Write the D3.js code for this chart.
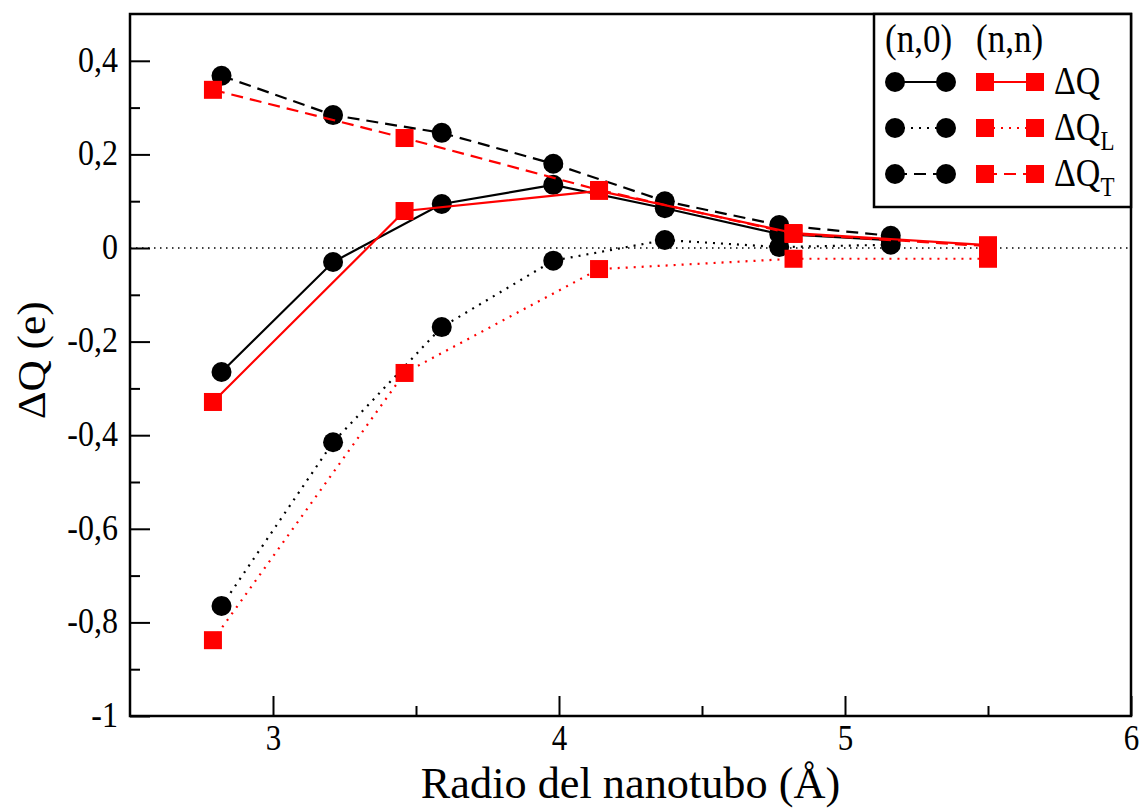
<!DOCTYPE html>
<html>
<head>
<meta charset="utf-8">
<script src="https://cdn.jsdelivr.net/npm/d3@7"></script>
<style>
  body { margin: 0; background: #fff; }
  text { font-family: "Liberation Serif", "Times New Roman", serif; }
</style>
</head>
<body>
<svg id="chart"></svg>
<script>
// (n,0) nanotubes
const radiiN0 = [2.82, 3.21, 3.59, 3.98, 4.37, 4.77, 5.16];
const dqN0 = [-0.265, -0.030, 0.094, 0.135, 0.085, 0.030, 0.017];
const dqLN0 = [-0.765, -0.415, -0.169, -0.027, 0.017, 0.002, 0.007];
const dqTN0 = [0.368, 0.284, 0.246, 0.180, 0.100, 0.049, 0.026];

// (n,n) nanotubes
const radiiNN = [2.79, 3.46, 4.14, 4.82, 5.50];
const dqNN = [-0.329, 0.079, 0.122, 0.032, 0.006];
const dqLNN = [-0.838, -0.267, -0.045, -0.023, -0.023];
const dqTNN = [0.338, 0.235, 0.124, 0.030, 0.004];

const xTicks = [3, 4, 5, 6];
const xMinorTicks = [3.5, 4.5, 5.5];
const yTicks = [-1, -0.8, -0.6, -0.4, -0.2, 0, 0.2, 0.4];
const yMinorTicks = [-0.9, -0.7, -0.5, -0.3, -0.1, 0.1, 0.3];

const legendRows = [
  { label: "ΔQ", sub: "", dash: null },
  { label: "ΔQ", sub: "L", dash: "2,6" },
  { label: "ΔQ", sub: "T", dash: "12,7" }
];

var width = 1146, height = 810;
var margin = { left: 130, right: 15, top: 14, bottom: 94 };
var stretch = 1.15; // the original lettering is a bit tall and narrow

function fmt(d) {
  return String(Math.round(d * 10) / 10).replace(".", ",");
}

function drawChart() {
  var svg = d3.select("#chart").attr("width", width).attr("height", height);

  var x = d3.scaleLinear().domain([2.5, 6])
    .range([margin.left, width - margin.right]);
  var y = d3.scaleLinear().domain([-1, 0.5])
    .range([height - margin.bottom, margin.top]);

  var y0 = height - margin.bottom;

  // minor ticks
  svg.append("g")
    .attr("transform", "translate(0," + y0 + ")")
    .call(d3.axisBottom(x).tickValues(xMinorTicks).tickSizeInner(-10).tickSizeOuter(0).tickFormat(""))
    .call(g => g.select(".domain").remove())
    .selectAll("line").attr("stroke-width", 2);
  svg.append("g")
    .attr("transform", "translate(" + margin.left + ",0)")
    .call(d3.axisLeft(y).tickValues(yMinorTicks).tickSizeInner(-10).tickSizeOuter(0).tickFormat(""))
    .call(g => g.select(".domain").remove())
    .selectAll("line").attr("stroke-width", 2);

  // major ticks with labels
  var xAxis = svg.append("g")
    .attr("transform", "translate(0," + y0 + ")")
    .call(d3.axisBottom(x).tickValues(xTicks).tickSizeInner(-20).tickSizeOuter(0).tickPadding(8).tickFormat(fmt));
  xAxis.select(".domain").remove();
  xAxis.attr("font-family", "Liberation Serif").attr("font-size", 31);
  xAxis.selectAll("line").attr("stroke-width", 2);
  xAxis.selectAll("text").attr("fill", "#000")
    .attr("transform", "scale(1," + stretch + ")");

  var yAxis = svg.append("g")
    .attr("transform", "translate(" + margin.left + ",0)")
    .call(d3.axisLeft(y).tickValues(yTicks).tickSizeInner(-20).tickSizeOuter(0).tickPadding(12).tickFormat(fmt));
  yAxis.select(".domain").remove();
  yAxis.attr("font-family", "Liberation Serif").attr("font-size", 32);
  yAxis.selectAll("line").attr("stroke-width", 2);
  yAxis.selectAll("text").attr("fill", "#000").attr("dy", "0.28em")
    .attr("transform", "scale(1," + stretch + ")");

  // zero reference line
  svg.append("line")
    .attr("x1", x(2.5)).attr("x2", x(6))
    .attr("y1", y(0)).attr("y2", y(0))
    .attr("stroke", "#000").attr("stroke-width", 1.5)
    .attr("stroke-dasharray", "1.5,4.5");

  var styles = [
    { xs: radiiN0, ys: dqN0, color: "#000", dash: null, shape: "circle" },
    { xs: radiiN0, ys: dqLN0, color: "#000", dash: "2,6", shape: "circle" },
    { xs: radiiN0, ys: dqTN0, color: "#000", dash: "12,7", shape: "circle" },
    { xs: radiiNN, ys: dqNN, color: "#ff0000", dash: null, shape: "square" },
    { xs: radiiNN, ys: dqLNN, color: "#ff0000", dash: "2,6", shape: "square" },
    { xs: radiiNN, ys: dqTNN, color: "#ff0000", dash: "12,7", shape: "square" }
  ];

  var line = d3.line().x(d => x(d[0])).y(d => y(d[1]));

  styles.forEach(function(s) {
    var pts = s.xs.map((v, i) => [v, s.ys[i]]);
    svg.append("path")
      .datum(pts)
      .attr("d", line)
      .attr("fill", "none")
      .attr("stroke", s.color)
      .attr("stroke-width", 2.2)
      .attr("stroke-dasharray", s.dash);
    drawMarkers(svg, pts.map(p => [x(p[0]), y(p[1])]), s.shape, s.color);
  });

  // frame
  svg.append("rect")
    .attr("x", margin.left).attr("y", margin.top)
    .attr("width", width - margin.left - margin.right)
    .attr("height", height - margin.top - margin.bottom)
    .attr("fill", "none").attr("stroke", "#000").attr("stroke-width", 2.5);

  drawLegend(svg, x(6));

  // axis titles
  svg.append("text")
    .attr("transform", "translate(" + ((x(2.5) + x(6)) / 2) + ",798) scale(1.03,1.05)")
    .attr("text-anchor", "middle")
    .attr("font-size", 43)
    .text("Radio del nanotubo (Å)");

  svg.append("text")
    .attr("transform", "translate(45," + y(-0.24) + ") rotate(-90) scale(1.08,1)")
    .attr("text-anchor", "middle")
    .attr("font-size", 40)
    .text("ΔQ (e)");
}

function drawMarkers(svg, pts, shape, color) {
  if (shape == "circle") {
    svg.append("g").selectAll("circle")
      .data(pts)
      .enter().append("circle")
      .attr("cx", d => d[0]).attr("cy", d => d[1])
      .attr("r", 10).attr("fill", color);
  } else {
    svg.append("g").selectAll("rect")
      .data(pts)
      .enter().append("rect")
      .attr("x", d => d[0] - 9).attr("y", d => d[1] - 9)
      .attr("width", 18).attr("height", 18).attr("fill", color);
  }
}

function drawLegend(svg, right) {
  var left = 874, top = 14, bottom = 207;
  var g = svg.append("g");
  g.append("rect")
    .attr("x", left).attr("y", top)
    .attr("width", right - left).attr("height", bottom - top)
    .attr("fill", "#fff").attr("stroke", "#000").attr("stroke-width", 2.5);

  g.append("text").attr("transform", "translate(885,52) scale(1," + stretch + ")")
    .attr("font-size", 35).text("(n,0)");
  g.append("text").attr("transform", "translate(976,52) scale(1," + stretch + ")")
    .attr("font-size", 35).text("(n,n)");

  var rowY = [82, 128, 174];
  legendRows.forEach(function(r, i) {
    var yy = rowY[i];
    g.append("line").attr("x1", 895).attr("x2", 946).attr("y1", yy).attr("y2", yy)
      .attr("stroke", "#000").attr("stroke-width", 2.2).attr("stroke-dasharray", r.dash);
    drawMarkers(g, [[895, yy], [946, yy]], "circle", "#000");
    g.append("line").attr("x1", 985).attr("x2", 1035).attr("y1", yy).attr("y2", yy)
      .attr("stroke", "#ff0000").attr("stroke-width", 2.2).attr("stroke-dasharray", r.dash);
    drawMarkers(g, [[985, yy], [1035, yy]], "square", "#ff0000");

    var t = g.append("text")
      .attr("transform", "translate(1054," + (yy + 12) + ") scale(1," + stretch + ")")
      .attr("font-size", 34).text(r.label);
    if (r.sub) {
      t.append("tspan").attr("dy", 9).attr("font-size", 23).text(r.sub);
    }
  });
}

drawChart();
</script>
</body>
</html>
